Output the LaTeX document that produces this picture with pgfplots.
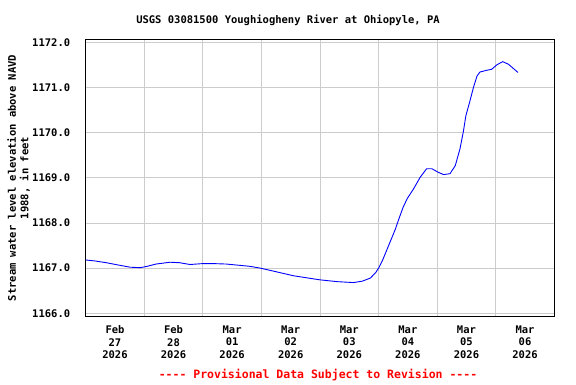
\documentclass[border=0pt]{standalone}
\usepackage{fontspec}
\setmainfont{DejaVu Sans Mono}[Ligatures=ResetAll]
\usepackage{pgfplots}
\pgfplotsset{compat=1.18}
\definecolor{gridgray}{HTML}{CCCCCC}
\begin{document}
\begin{tikzpicture}
\useasboundingbox (0pt,0pt) rectangle (576pt,384pt);
\begin{axis}[
  at={(85.7pt,68pt)}, anchor=south west,
  scale only axis, width=468.6pt, height=276.5pt,
  xmin=0, xmax=8, ymin=1165.94, ymax=1172.06,
  axis line style={black, line width=1pt},
  font=\fontsize{10.5}{12.5}\selectfont\bfseries,
  /pgf/number format/assume math mode=true,
  xtick={0.5,1.5,2.5,3.5,4.5,5.5,6.5,7.5},
  xticklabels={{Feb\\27\\2026},{Feb\\28\\2026},{Mar\\01\\2026},{Mar\\02\\2026},{Mar\\03\\2026},{Mar\\04\\2026},{Mar\\05\\2026},{Mar\\06\\2026}},
  xticklabel style={align=center, yshift=-6pt},
  minor xtick={1,2,3,4,5,6,7},
  xmajorgrids=false, xminorgrids=true,
  ytick={1166,1167,1168,1169,1170,1171,1172},
  ymajorgrids=true,
  yticklabel style={/pgf/number format/.cd, fixed, fixed zerofill, precision=1, 1000 sep={}, /tikz/.cd, xshift=-12pt},
  major tick length=0pt, minor tick length=0pt,
  grid style={gridgray, line width=0.8pt},
]
\addplot[blue, line width=0.9pt] coordinates {
(0.00,1167.18) (0.15,1167.16) (0.35,1167.12) (0.55,1167.07) (0.76,1167.02)
(0.93,1167.01) (1.05,1167.04) (1.20,1167.09) (1.44,1167.13) (1.60,1167.12)
(1.78,1167.08) (2.00,1167.10) (2.18,1167.10) (2.40,1167.09) (2.64,1167.06)
(2.80,1167.04) (2.98,1167.00) (3.25,1166.92) (3.55,1166.83) (3.80,1166.78)
(4.00,1166.74) (4.30,1166.70) (4.57,1166.68) (4.72,1166.71) (4.86,1166.78)
(4.95,1166.90) (5.00,1167.00) (5.07,1167.18) (5.14,1167.40) (5.21,1167.62)
(5.28,1167.84) (5.35,1168.10) (5.42,1168.35) (5.49,1168.54) (5.60,1168.76)
(5.71,1169.01) (5.82,1169.20) (5.91,1169.20) (6.02,1169.12) (6.11,1169.07)
(6.22,1169.09) (6.31,1169.27) (6.39,1169.64) (6.45,1170.04) (6.49,1170.37)
(6.56,1170.70) (6.62,1171.00) (6.68,1171.25) (6.73,1171.34) (6.85,1171.38)
(6.93,1171.40) (7.02,1171.50) (7.12,1171.57) (7.22,1171.51) (7.30,1171.42)
(7.38,1171.33)
};
\end{axis}
\node[font=\fontsize{10.5}{12.5}\selectfont\bfseries] at (288pt,364pt) {USGS 03081500 Youghiogheny River at Ohiopyle, PA};
\node[font=\fontsize{10.5}{12.5}\selectfont\bfseries, rotate=90, align=center] at (18.5pt,206pt) {Stream water level elevation above NAVD\\1988, in feet};
\node[font=\fontsize{11.5}{13.5}\selectfont\bfseries, text=red] at (318pt,9pt) {{-}{-}{-}{-} Provisional Data Subject to Revision {-}{-}{-}{-}};
\end{tikzpicture}
\end{document}
